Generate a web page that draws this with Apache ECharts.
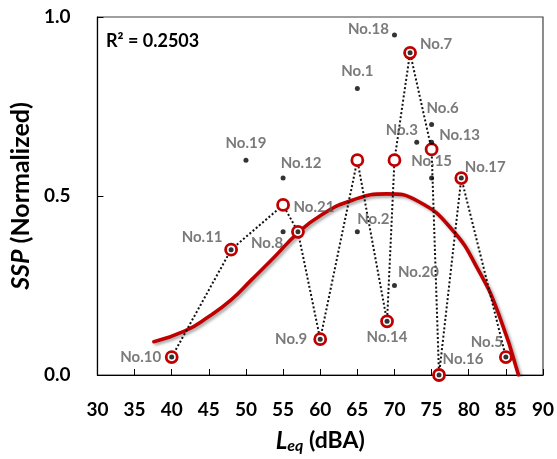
<!DOCTYPE html>
<html><head><meta charset="utf-8">
<script src="https://cdn.jsdelivr.net/npm/echarts@6/dist/echarts.min.js"></script>
<style>html,body{margin:0;padding:0;background:#fff}#c{width:557px;height:459px}</style>
</head><body><div id="c"></div>
<script>
// All measured points (black dots)
const pointNames = ['No.1','No.2','No.3','No.5','No.6','No.7','No.8','No.9','No.10','No.11','No.12','No.13','No.14','No.15','No.16','No.17','No.18','No.19','No.20','No.21'];
const pointLeq   = [65, 65, 73, 85, 75, 72.1, 55, 60, 40, 48, 55, 75, 69, 75, 76, 79, 70, 50, 70, 57];
const pointSSP   = [0.80, 0.40, 0.65, 0.05, 0.70, 0.90, 0.40, 0.10, 0.05, 0.35, 0.55, 0.65, 0.15, 0.55, 0.00, 0.55, 0.95, 0.60, 0.25, 0.40];
// Red-circled path (connected by dotted line)
const pathLeq = [40, 48, 55, 57, 60, 65, 69, 70, 72.1, 75, 76, 79, 85];
const pathSSP = [0.05, 0.35, 0.475, 0.40, 0.10, 0.60, 0.15, 0.60, 0.90, 0.63, 0.00, 0.55, 0.05];
// Fitted trend curve
const fitLeq = [37.6, 41.8, 44.9, 48.0, 50.7, 53.8, 56.9, 60.0, 64.4, 68.9, 73.3, 77.8, 81.3, 84.0, 86.7];
const fitSSP = [0.093, 0.123, 0.162, 0.210, 0.265, 0.329, 0.395, 0.445, 0.489, 0.506, 0.484, 0.405, 0.293, 0.172, 0.0];
const rSquared = '0.2503';

// label placement (style): offset of label centre from its dot, in px
const labelOffsets = {
  'No.1':[0,-17],'No.2':[16,-13],'No.3':[-15,-12],'No.5':[-19,-15],'No.6':[11,-16],
  'No.7':[26,-9],'No.8':[-16,11],'No.9':[-29,0],'No.10':[-31,0],'No.11':[-29,-12.5],
  'No.12':[18,-15],'No.13':[28,-7],'No.14':[0,16],'No.15':[0,-17],'No.16':[24,-16],
  'No.17':[24,-11],'No.18':[-26,-6],'No.19':[0,-17],'No.20':[24,-13],'No.21':[16,-25]
};

const FONT = 'Lato';
const chart = echarts.init(document.getElementById('c'), null, {renderer:'canvas'});

const pointData = pointNames.map((n,i)=>({
  name:n, value:[pointLeq[i], pointSSP[i]],
  label:{show:true, formatter:n, position:'inside', offset:labelOffsets[n]}
}));

chart.setOption({
  animation:false,
  grid:{left:95, top:17, right:12, bottom:84, show:true, borderColor:'#404040', borderWidth:1.2, backgroundColor:'transparent'},
  xAxis:{
    type:'value', min:30, max:90, interval:5,
    name:'{i|L}{s|eq}{n| (dBA)}', nameLocation:'middle', nameGap:53,
    nameTextStyle:{rich:{
      i:{fontFamily:FONT, fontWeight:'bold', fontStyle:'italic', fontSize:24, color:'#000'},
      s:{fontFamily:FONT, fontWeight:'bold', fontStyle:'italic', fontSize:16, color:'#000', padding:[10,0,0,0]},
      n:{fontFamily:FONT, fontWeight:'bold', fontSize:23, color:'#000'}
    }},
    axisLine:{lineStyle:{color:'#000', width:1.2}},
    axisTick:{inside:true, length:6, lineStyle:{color:'#000', width:1}},
    axisLabel:{margin:25, fontFamily:FONT, fontWeight:'bold', fontSize:19, color:'#000'},
    splitLine:{show:false}
  },
  yAxis:{
    type:'value', min:0, max:1, interval:0.5,
    name:'{i|SSP}{n| (Normalized)}', nameLocation:'middle', nameGap:57, nameRotate:90,
    nameTextStyle:{rich:{
      i:{fontFamily:FONT, fontWeight:'bold', fontStyle:'italic', fontSize:25, color:'#000'},
      n:{fontFamily:FONT, fontWeight:'bold', fontSize:25, color:'#000'}
    }},
    axisLine:{lineStyle:{color:'#000', width:1.2}},
    axisTick:{inside:true, length:6, lineStyle:{color:'#000', width:1}},
    axisLabel:{margin:27, fontFamily:FONT, fontWeight:'bold', fontSize:19, color:'#000', formatter:v=>v.toFixed(1)},
    splitLine:{show:false}
  },
  series:[
    {
      type:'line', data:fitLeq.map((x,i)=>[x, fitSSP[i]]), smooth:0.5, showSymbol:false, z:2,
      lineStyle:{color:'#C00000', width:3.6, cap:'round', shadowColor:'rgba(0,0,0,0.35)', shadowBlur:3, shadowOffsetX:2, shadowOffsetY:2}
    },
    {
      type:'line', data:pathLeq.map((x,i)=>[x, pathSSP[i]]), smooth:false, z:3,
      symbol:'circle', symbolSize:11, showSymbol:true,
      lineStyle:{color:'#111', width:2, type:[2,2.2]},
      itemStyle:{color:'#fff', borderColor:'#C00000', borderWidth:2.8}
    },
    {
      type:'scatter', data:pointData, symbol:'circle', symbolSize:5, z:5,
      itemStyle:{color:'#000'},
      label:{fontFamily:FONT, fontWeight:'bold', fontSize:15, color:'#595959'}
    }
  ],
  graphic:[{
    type:'text', left:106, top:32,
    style:{text:'R\u00B2 = '+rSquared, fontFamily:FONT, fontWeight:'bold', fontSize:18, fill:'#000'}
  }]
});
</script></body></html>
